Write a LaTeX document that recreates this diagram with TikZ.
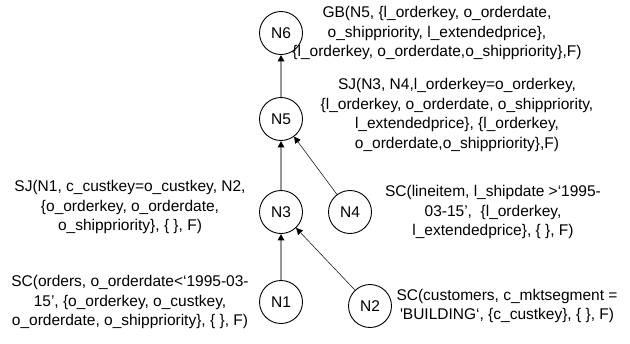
\documentclass[tikz,border=0pt]{standalone}
\usepackage{fontspec}
\setmainfont{Liberation Sans}[Ligatures=TeXOff]
\usetikzlibrary{arrows.meta}
\begin{document}
\begin{tikzpicture}[x=1bp,y=-1bp,
  opnode/.style={circle,draw=black,line width=0.9bp,minimum size=43bp,inner sep=0pt,font=\fontsize{15.5bp}{18bp}\selectfont},
  lbl/.style={align=center,inner sep=0pt,font=\fontsize{15.5bp}{19.7bp}\selectfont},
  vline/.style={draw={rgb,255:red,150;green,150;blue,150},line width=1.6bp,-{Triangle[black,length=6.5bp,width=6.5bp]}},
  dline/.style={draw=black,line width=0.5bp,-{Triangle[black,length=6.5bp,width=6.5bp]}}]
\useasboundingbox (0,0) rectangle (630,343);
\node[opnode] (n6) at (281,33) {N6};
\node[opnode] (n5) at (281,119) {N5};
\node[opnode] (n3) at (281,212) {N3};
\node[opnode] (n4) at (350,212) {N4};
\node[opnode] (n1) at (281,302) {N1};
\node[opnode] (n2) at (370,306) {N2};
\node[lbl] (t6) at (437,33) {GB(N5, \{l\_orderkey, o\_orderdate,\\o\_shippriority, l\_extendedprice\},\\\{l\_orderkey, o\_orderdate,o\_shippriority\},F)};
\node[lbl] (t5) at (457,115) {SJ(N3, N4,l\_orderkey=o\_orderkey,\\\{l\_orderkey, o\_orderdate, o\_shippriority,\\l\_extendedprice\}, \{l\_orderkey,\\o\_orderdate,o\_shippriority\},F)};
\node[lbl] (t3) at (130,207) {SJ(N1, c\_custkey=o\_custkey, N2,\\\{o\_orderkey, o\_orderdate,\\o\_shippriority\}, \{ \}, F)};
\node[lbl] (t4) at (493,212) {SC(lineitem, l\_shipdate >‘1995-\\03-15’,~ \{l\_orderkey,\\l\_extendedprice\}, \{ \}, F)};
\node[lbl] (t1) at (130,302) {SC(orders, o\_orderdate<‘1995-03-\\15’, \{o\_orderkey, o\_custkey,\\o\_orderdate, o\_shippriority\}, \{ \}, F)};
\node[lbl] (t2) at (507,306) {SC(customers, c\_mktsegment =\\'BUILDING‘, \{c\_custkey\}, \{ \}, F)};
\draw[vline] (n5) -- (n6);
\draw[vline] (n3) -- (n5);
\draw[vline] (n1) -- (n3);
\draw[dline] (n4) -- (n5);
\draw[dline] (n2) -- (n3);
\end{tikzpicture}
\end{document}
